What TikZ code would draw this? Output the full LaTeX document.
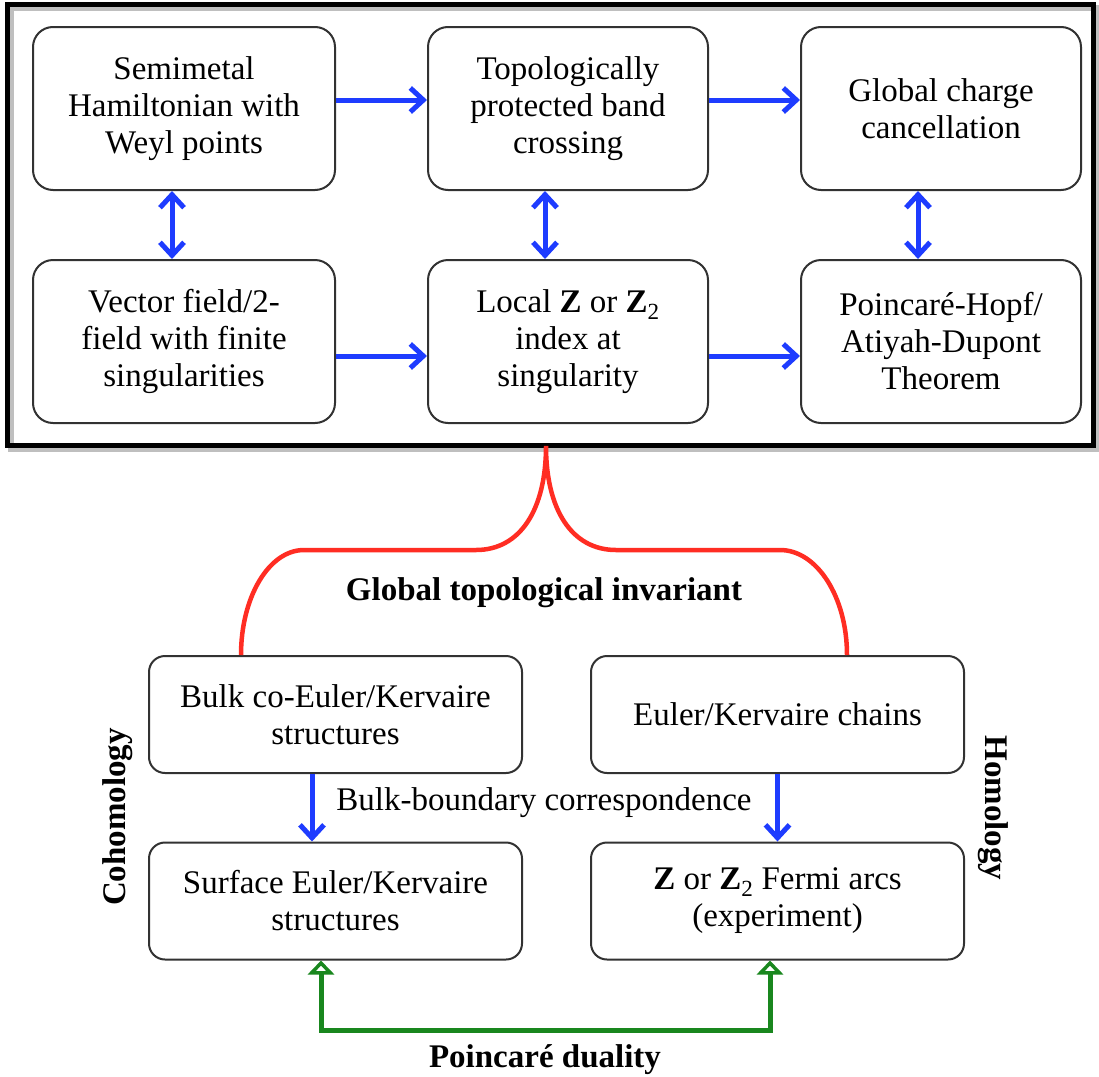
\documentclass[tikz,border=0pt]{standalone}
\usepackage{fontspec}
\setmainfont{Liberation Serif}
\usetikzlibrary{arrows.meta,calc}
\definecolor{arrowblue}{RGB}{30,60,255}
\definecolor{bracered}{RGB}{255,45,35}
\definecolor{dualgreen}{RGB}{25,135,30}
\definecolor{boxgray}{RGB}{50,50,50}
\begin{document}
\begin{tikzpicture}[x=1pt,y=-1pt,
  txt/.style={font=\fontsize{33pt}{37pt}\selectfont},
  btxt/.style={font=\fontsize{33pt}{37pt}\selectfont\bfseries},
  topbox/.style={draw=boxgray, line width=2pt, rounded corners=20pt, align=center,
    inner sep=0pt, minimum height=163pt, fill=white, txt},
  lowbox/.style={draw=boxgray, line width=2pt, rounded corners=16pt, align=center,
    inner sep=0pt, minimum width=373pt, minimum height=117pt, fill=white, txt},
  barrow/.style={draw=arrowblue, line width=5pt, -{Straight Barb[length=13pt,width=24pt]}},
  bdarrow/.style={draw=arrowblue, line width=5pt, {Straight Barb[length=13pt,width=24pt]}-{Straight Barb[length=13pt,width=24pt]}},
  garrow/.style={draw=dualgreen, line width=5pt, {Triangle[open,length=14pt,width=26pt,fill=white]}-{Triangle[open,length=14pt,width=26pt,fill=white]}},
  lab/.style={anchor=base, inner sep=0pt}
]
\useasboundingbox (0,0) rectangle (1099,1076);
\fill[white] (0,0) rectangle (1099,1076);

% outer frame with a soft shadow
\draw[black!25, line width=6pt] (10.5,8) rectangle (1096,448.5);
\draw[black, line width=5pt] (7.5,4.5) rectangle (1093,445);

% top boxes
\node[topbox, minimum width=302pt] (b1) at (184,108.5) {Semimetal\\Hamiltonian with\\Weyl points};
\node[topbox, minimum width=280pt] (b2) at (568,108.5) {Topologically\\protected band\\crossing};
\node[topbox, minimum width=280pt] (b3) at (941,108.5) {Global charge\\cancellation};
\node[topbox, minimum width=302pt] (b4) at (184,341.5) {Vector field/2-\\field with finite\\singularities};
\node[topbox, minimum width=280pt] (b5) at (568,341.5) {Local \textbf{Z} or \textbf{Z}\textsubscript{2}\\index at\\singularity};
\node[topbox, minimum width=280pt] (b6) at (941,341.5) {Poincaré-Hopf/\\Atiyah-Dupont\\Theorem};

\draw[barrow] ([yshift=8.5pt]b1.east) -- ([yshift=8.5pt]b2.west);
\draw[barrow] ([yshift=8.5pt]b2.east) -- ([yshift=8.5pt]b3.west);
\draw[barrow] ([yshift=-14.5pt]b4.east) -- ([yshift=-14.5pt]b5.west);
\draw[barrow] ([yshift=-14.5pt]b5.east) -- ([yshift=-14.5pt]b6.west);
\draw[bdarrow] ([xshift=-12pt]b1.south) -- ([xshift=-12pt]b4.north);
\draw[bdarrow] ([xshift=-23pt]b2.south) -- ([xshift=-23pt]b5.north);
\draw[bdarrow] ([xshift=-23pt]b3.south) -- ([xshift=-23pt]b6.north);

% lower boxes
\node[lowbox] (b7) at (335.5,714.5) {Bulk co-Euler/Kervaire\\structures};
\node[lowbox] (b8) at (777.5,714.5) {Euler/Kervaire chains};
\node[lowbox] (b9) at (335.5,901) {Surface Euler/Kervaire\\structures};
\node[lowbox] (b10) at (777.5,901) {\textbf{Z} or \textbf{Z}\textsubscript{2} Fermi arcs\\(experiment)};

% red brace
\coordinate (bt) at (546,446);
\coordinate (bl) at (241,655);
\coordinate (br) at (847,655);
\draw[bracered, line width=4.5pt]
  (bl) .. controls (241,597) and (269,550) .. (304,550)
  -- (476,550) .. controls (520,550) and (546,510) .. (bt)
  .. controls (546,510) and (572,550) .. (616,550)
  -- (780,550) .. controls (817,550) and (847,597) .. (br);
\node[lab, btxt] (gti) at (544,600) {Global topological invariant};

% bulk-boundary arrows
\draw[barrow] ([xshift=-23.5pt]b7.south) -- ([xshift=-23.5pt]b9.north);
\draw[barrow] (b8.south) -- (b10.north);
\node[lab, txt] (bbc) at (544,810) {Bulk-boundary correspondence};

% Poincare duality
\coordinate (gm) at (545,1030);
\draw[garrow] ([xshift=-14.5pt]b9.south) |- (gm) -| ([xshift=-7.5pt]b10.south);
\node[lab, btxt] (pd) at (545,1067) {Poincaré duality};

% side labels
\node[btxt, rotate=90, inner sep=0pt] (coh) at (118,817) {Cohomology};
\node[btxt, rotate=-90, inner sep=0pt] (hom) at (993,808) {Homology};
\end{tikzpicture}
\end{document}
